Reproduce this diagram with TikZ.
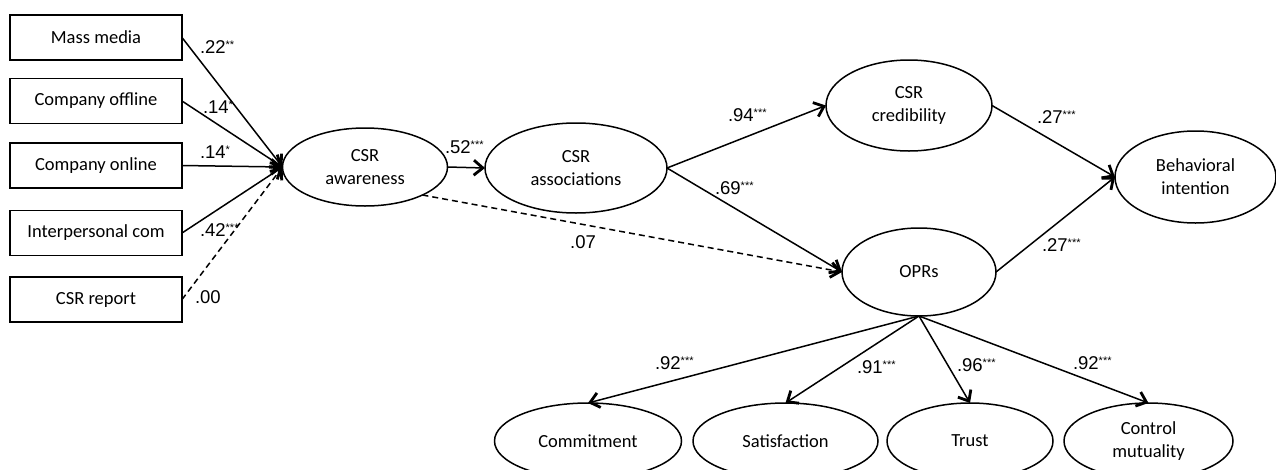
\documentclass[tikz,border=0pt]{standalone}
\usepackage{fontspec}
\setmainfont{Carlito}
\newfontfamily\coeffont{Liberation Sans}
\usetikzlibrary{shapes.geometric,arrows.meta}
\newcommand{\sig}[1]{\raisebox{4.5pt}{\fontsize{11}{11}\selectfont #1}}
\begin{document}
\begin{tikzpicture}[x=1pt,y=-1pt,inner sep=0pt,outer sep=0pt,line width=1.5pt,
>={Straight Barb[length=9pt,width=15pt,line width=2.8pt]},
font=\fontsize{18.5}{23}\selectfont,
srcblock/.style={draw,rectangle,minimum width=172pt,minimum height=45pt},
latent/.style={draw,ellipse,align=center},
coef/.style={font=\coeffont\fontsize{18.5}{20}\selectfont,anchor=west}]
\useasboundingbox (0,0) rectangle (1276,469);
% observed sources
\draw (96,37.5) node[srcblock] (media) {Mass media};
\draw (96,101) node[srcblock] (offline) {Company offline};
\draw (96,165.5) node[srcblock] (online) {Company online};
\draw (96,233) node[srcblock] (interp) {Interpersonal com};
\draw (96,299.5) node[srcblock] (report) {CSR report};
% latent variables
\draw (365,167) node[latent,minimum width=165pt,minimum height=78pt] (aware) {CSR\\awareness};
\draw (576,168) node[latent,minimum width=182pt,minimum height=90pt] (assoc) {CSR\\associations};
\draw (909,105.5) node[latent,minimum width=166pt,minimum height=91pt] (cred) {CSR\\credibility};
\draw (1195.5,177) node[latent,minimum width=161pt,minimum height=92pt] (behav) {Behavioral\\intention};
\draw (919,272) node[latent,minimum width=154pt,minimum height=88pt] (opr) {OPRs};
\draw (588,441) node[latent,minimum width=187pt,minimum height=76pt] (commit) {Commitment};
\draw (785.5,441) node[latent,minimum width=185pt,minimum height=76pt] (satis) {Satisfaction};
\draw (970,441) node[latent,minimum width=166pt,minimum height=76pt] (trust) {Trust};
\draw (1148.5,441) node[latent,minimum width=169pt,minimum height=76pt] (control) {Control\\mutuality};
% paths
\draw[->] (media.east) -- (aware.west);
\draw[->] (offline.east) -- (aware.west);
\draw[->] (online.east) -- (aware.west);
\draw[->] (interp.east) -- (aware.west);
\draw[->,dash pattern=on 6pt off 4pt] (report.east) -- (aware.west);
\draw[->] (aware.east) -- (assoc.west);
\draw[->,dash pattern=on 6pt off 4pt] (aware.-26) -- (opr.west);
\draw[->] (assoc.east) -- (cred.west);
\draw[->] (assoc.east) -- (opr.west);
\draw[->] (cred.east) -- (behav.west);
\draw[->] (opr.east) -- (behav.west);
\draw[->] (opr.south) -- (commit.north);
\draw[->] (opr.south) -- (satis.north);
\draw[->] (opr.south) -- (trust.north);
\draw[->] (opr.south) -- (control.north);
% coefficients
\node[coef] (c1) at (200,47) {.22\sig{**}};
\node[coef] (c2) at (203,107) {.14\sig{*}};
\node[coef] (c3) at (200,152) {.14\sig{*}};
\node[coef] (c4) at (200,230) {.42\sig{***}};
\node[coef] (c5) at (195,297) {.00};
\node[coef] (c6) at (445,147) {.52\sig{***}};
\node[coef,anchor=center] (c7) at (583,242) {.07};
\node[coef] (c8) at (728,115) {.94\sig{***}};
\node[coef] (c9) at (715,188) {.69\sig{***}};
\node[coef] (c10) at (1037,117) {.27\sig{***}};
\node[coef] (c11) at (1042,245) {.27\sig{***}};
\node[coef] (c12) at (655,363) {.92\sig{***}};
\node[coef] (c13) at (857,367) {.91\sig{***}};
\node[coef] (c14) at (957,365) {.96\sig{***}};
\node[coef] (c15) at (1073,363) {.92\sig{***}};
\end{tikzpicture}
\end{document}
